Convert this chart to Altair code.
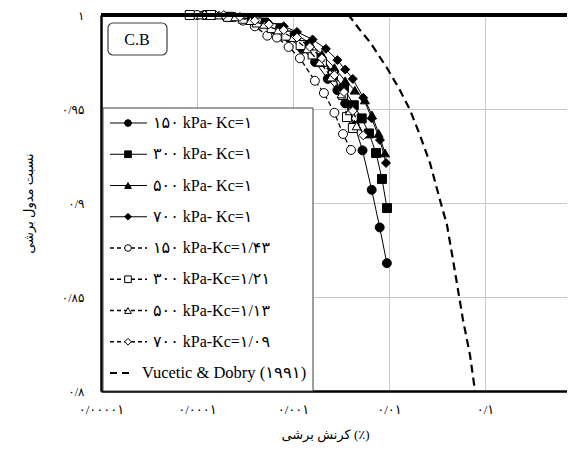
import altair as alt
import pandas as pd

# ---------------- data ----------------
series_names = ["s150_1", "s300_1", "s500_1", "s700_1",
                "s150_143", "s300_121", "s500_113", "s700_109", "vd1991"]
legend_labels = ["۱۵۰ kPa- Kc=۱", "۳۰۰  kPa- Kc=۱", "۵۰۰  kPa- Kc=۱", "۷۰۰  kPa- Kc=۱",
                 "۱۵۰ kPa-Kc=۱/۴۳", "۳۰۰ kPa-Kc=۱/۲۱", "۵۰۰ kPa-Kc=۱/۱۳", "۷۰۰ kPa-Kc=۱/۰۹",
                 "Vucetic & Dobry (۱۹۹۱)"]

s1_x = [1.2e-4, 2e-4, 3e-4, 4.5e-4, 6.5e-4, 9e-4, 0.00125, 0.0017, 0.0023, 0.0029, 0.0035, 0.0044, 0.0053, 0.0066, 0.008, 0.0095]
s1_y = [1.0, 0.999, 0.998, 0.996, 0.992, 0.988, 0.982, 0.975, 0.966, 0.960, 0.953, 0.941, 0.928, 0.907, 0.887, 0.868]
s2_x = [1.3e-4, 2.2e-4, 3.3e-4, 5e-4, 7e-4, 1e-3, 0.0014, 0.0019, 0.0026, 0.0034, 0.0043, 0.0052, 0.0062, 0.00733, 0.00845, 0.00953]
s2_y = [1.0, 0.999, 0.998, 0.996, 0.993, 0.989, 0.984, 0.977, 0.969, 0.961, 0.952, 0.945, 0.937, 0.9266, 0.9128, 0.8973]
s3_x = [1.4e-4, 2.3e-4, 3.5e-4, 5.2e-4, 7.5e-4, 0.00105, 0.0015, 0.002, 0.0027, 0.0035, 0.0044, 0.00561, 0.00665, 0.0078, 0.00908]
s3_y = [1.0, 0.999, 0.998, 0.996, 0.993, 0.990, 0.985, 0.979, 0.972, 0.965, 0.960, 0.9548, 0.9468, 0.937, 0.9266]
s4_x = [1.5e-4, 2.5e-4, 3.8e-4, 5.5e-4, 8e-4, 0.0011, 0.0016, 0.0022, 0.0029, 0.0035, 0.0042, 0.0054, 0.0066, 0.00805, 0.00931]
s4_y = [1.0, 0.999, 0.998, 0.996, 0.994, 0.991, 0.987, 0.982, 0.976, 0.971, 0.966, 0.956, 0.945, 0.9335, 0.9213]
s5_x = [1.0e-4, 1.5e-4, 2.2e-4, 3e-4, 4e-4, 5.4e-4, 6.8e-4, 9e-4, 0.00118, 0.00169, 0.0021, 0.0027, 0.00332, 0.00402]
s5_y = [1.0, 1.0, 0.999, 0.997, 0.994, 0.989, 0.988, 0.983, 0.977, 0.965, 0.9585, 0.948, 0.9367, 0.9282]
s6_x = [8.4e-5, 1.4e-4, 2.1e-4, 3e-4, 4.2e-4, 6e-4, 8.5e-4, 0.0012, 0.0016, 0.002, 0.00261, 0.00332, 0.00365, 0.0042]
s6_y = [1.0, 1.0, 0.999, 0.998, 0.996, 0.993, 0.989, 0.984, 0.979, 0.975, 0.968, 0.9574, 0.9457, 0.9399]
s7_x = [1.1e-4, 1.7e-4, 2.5e-4, 3.6e-4, 5e-4, 7e-4, 1e-3, 0.0014, 0.0019, 0.0025, 0.0032, 0.0039, 0.0046]
s7_y = [1.0, 1.0, 0.999, 0.997, 0.995, 0.992, 0.988, 0.982, 0.975, 0.967, 0.958, 0.949, 0.941]
s8_x = [1.2e-4, 1.9e-4, 2.8e-4, 4e-4, 5.6e-4, 8e-4, 0.0011, 0.0015, 0.002, 0.0027, 0.0034, 0.0042, 0.0054]
s8_y = [1.0, 1.0, 0.999, 0.997, 0.995, 0.992, 0.988, 0.983, 0.977, 0.968, 0.959, 0.949, 0.936]
vd_x = [0.0037, 0.00393, 0.00499, 0.00634, 0.00953, 0.0130, 0.01656, 0.02104, 0.02673, 0.03397, 0.04018, 0.04645, 0.05236, 0.05902, 0.06981, 0.0787]
vd_y = [1.0, 0.999, 0.992, 0.9856, 0.9718, 0.960, 0.9495, 0.936, 0.9213, 0.9016, 0.8883, 0.8697, 0.8537, 0.8378, 0.8191, 0.80]

x_tick_values = [1e-5, 1e-4, 1e-3, 1e-2, 1e-1]
x_tick_labels = ["۰/۰۰۰۰۱", "۰/۰۰۰۱", "۰/۰۰۱", "۰/۰۱", "۰/۱"]
y_tick_values = [0.8, 0.85, 0.9, 0.95, 1.0]
y_tick_labels = ["۰/۸", "۰/۸۵", "۰/۹", "۰/۹۵", "۱"]

x_title = "کرنش برشی (٪)"
y_title = "نسبت مدول برشی"
panel_label = "C.B"

# ---------------- build tables ----------------
series_x = [s1_x, s2_x, s3_x, s4_x, s5_x, s6_x, s7_x, s8_x, vd_x]
series_y = [s1_y, s2_y, s3_y, s4_y, s5_y, s6_y, s7_y, s8_y, vd_y]
shapes = ["circle", "square", "triangle-up", "diamond",
          "circle", "square", "triangle-up", "diamond", None]
fills = ["black"] * 4 + ["white"] * 4 + [None]

rows = []
for name, xs, ys in zip(series_names, series_x, series_y):
    for k, (xv, yv) in enumerate(zip(xs, ys)):
        rows.append({"series": name, "gamma": xv, "G": yv, "idx": k})
df = pd.DataFrame(rows)

W, H = 466, 376
XMAX = 10 ** (W / 96.0 - 5)
x_expr = "[" + ",".join("'%s'" % s for s in x_tick_labels) + "][round(log(datum.value)/LN10)+5]"
y_expr = "[" + ",".join("'%s'" % s for s in y_tick_labels) + "][round((datum.value-0.8)/0.05)]"

FONT = "Liberation Serif, DejaVu Sans"

xenc = alt.X("gamma:Q",
             scale=alt.Scale(type="log", domain=[1e-5, XMAX], nice=False),
             axis=alt.Axis(values=x_tick_values, labelExpr=x_expr, title=x_title,
                           grid=True, ticks=False, labelPadding=12, titlePadding=12,
                           labelFlush=False,
                           titleX=224, labelFontSize=13, titleFontSize=13))
yenc = alt.Y("G:Q",
             scale=alt.Scale(domain=[0.8, 1.0], nice=False, zero=False),
             axis=alt.Axis(values=y_tick_values, labelExpr=y_expr, title=y_title,
                           grid=True, ticks=False, labelPadding=17, titlePadding=26,
                           labelFontSize=12, titleFontSize=13))

main_layers = []
for i, name in enumerate(series_names):
    base = alt.Chart(df).transform_filter(alt.datum.series == name)
    if i < 4:
        line = base.mark_line(color="black", strokeWidth=1)
    elif i < 8:
        line = base.mark_line(color="black", strokeWidth=1.3, strokeDash=[5, 3])
    else:
        line = base.mark_line(color="black", strokeWidth=2.2, strokeDash=[8, 5])
    main_layers.append(line.encode(x=xenc, y=yenc, order="idx:Q"))
    if shapes[i] is not None:
        pts = base.mark_point(shape=shapes[i], filled=True, fill=fills[i], stroke="black",
                              strokeWidth=1, size=80, opacity=1)
        main_layers.append(pts.encode(x=xenc, y=yenc))

top_border = alt.Chart(df).mark_rule(color="black", strokeWidth=2.5).encode(
    y=alt.datum(1.0), x=alt.value(0), x2=alt.value(W))
main_layers.append(top_border)
main = alt.layer(*main_layers)

# ---------------- in-plot legend & label ----------------
leg_df = pd.DataFrame({
    "name": series_names,
    "label": legend_labels,
    "shape": [s if s else "circle" for s in shapes],
    "fill": [f if f else "white" for f in fills],
    "kind": ["solid"] * 4 + ["dash"] * 4 + ["vd"],
})
legy = alt.Y("name:N", scale=alt.Scale(type="point", domain=series_names, range=[108, 358], padding=0),
             axis=None)
dummy = pd.DataFrame({"a": [0]})

box = alt.Chart(dummy).mark_rect(fill="white", stroke="#404040", strokeWidth=1).encode(
    x=alt.value(2), x2=alt.value(212), y=alt.value(93), y2=alt.value(376))
leg = alt.Chart(leg_df)
r_solid = leg.transform_filter(alt.datum.kind == "solid").mark_rule(color="black", strokeWidth=1).encode(
    x=alt.value(9), x2=alt.value(46), y=legy)
r_dash = leg.transform_filter(alt.datum.kind == "dash").mark_rule(color="black", strokeWidth=1.5, strokeDash=[4, 3]).encode(
    x=alt.value(9), x2=alt.value(46), y=legy)
r_vd = leg.transform_filter(alt.datum.kind == "vd").mark_rule(color="black", strokeWidth=2, strokeDash=[7, 5]).encode(
    x=alt.value(9), x2=alt.value(33), y=legy)
p_leg = leg.transform_filter(alt.datum.kind != "vd").mark_point(size=45, strokeWidth=1, opacity=1, filled=True).encode(
    x=alt.value(27), y=legy,
    shape=alt.Shape("shape:N", scale=None),
    fill=alt.Fill("fill:N", scale=None),
    stroke=alt.value("black"))
t_leg = leg.transform_filter(alt.datum.kind != "vd").mark_text(
    align="left", baseline="middle", font=FONT, fontSize=16, color="black").encode(
    x=alt.value(52), y=legy, text="label:N")
t_vd = leg.transform_filter(alt.datum.kind == "vd").mark_text(
    align="left", baseline="middle", font=FONT, fontSize=16.5, color="black").encode(
    x=alt.value(41), y=legy, text="label:N")

cb_box = alt.Chart(dummy).mark_rect(fill="white", stroke="#404040", strokeWidth=1.2, cornerRadius=5).encode(
    x=alt.value(7), x2=alt.value(66), y=alt.value(8), y2=alt.value(40))
cb_text = alt.Chart(dummy).mark_text(font=FONT, fontSize=16, color="black", align="center", baseline="middle").encode(
    x=alt.value(36), y=alt.value(25), text=alt.value(panel_label))

legend = alt.layer(box, r_solid, r_dash, r_vd, p_leg, t_leg, t_vd, cb_box, cb_text)

chart = alt.layer(main, legend).resolve_scale(x="independent", y="independent").properties(
    width=W, height=H,
    padding={"left": 93, "top": 7, "right": 0, "bottom": 55},
    autosize=alt.AutoSizeParams(type="none"),
    background="white",
).configure_view(stroke=None).configure_axis(
    domainColor="black", domainWidth=2.5, gridColor="#c8c8c8", gridWidth=1,
    labelFont=FONT, titleFont=FONT, labelColor="black", titleColor="black",
    titleFontWeight="normal",
)

chart.save("out.html", embed_options={"renderer": "svg", "actions": False})
